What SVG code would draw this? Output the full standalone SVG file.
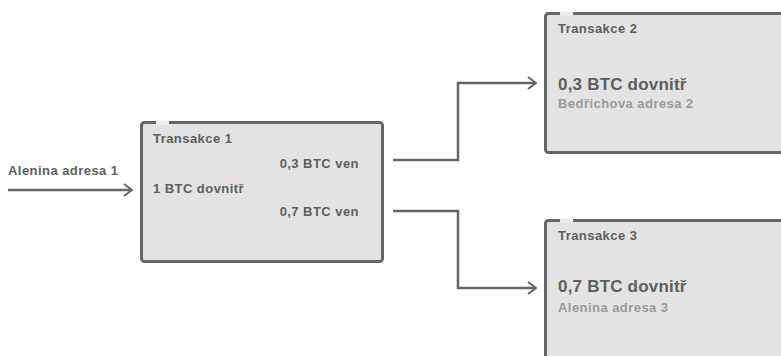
<svg xmlns="http://www.w3.org/2000/svg" width="781" height="356" viewBox="0 0 781 356">
<defs>
<style>
.box{fill:#e3e3e3;stroke:#666;stroke-width:3}
.gap{stroke:#eeeeee;stroke-width:4}
.t{font-family:"Liberation Sans",Arial,sans-serif;font-weight:bold;font-size:13px;letter-spacing:0.45px;fill:#5e5e5e}
.big{font-size:17px;letter-spacing:0.2px}
.light{fill:#9a9a9a}
.conn{fill:none;stroke:#666;stroke-width:2.5}
</style>
<marker id="arr" viewBox="0 0 10 14" refX="9" refY="7" markerWidth="10" markerHeight="14" markerUnits="userSpaceOnUse" orient="auto">
<path d="M1,1 L9,7 L1,13" fill="none" stroke="#666" stroke-width="2"/>
</marker>
</defs>
<rect width="781" height="356" fill="#fff"/>
<g id="connectors">
<path class="conn" d="M8,190 H132" marker-end="url(#arr)"/>
<path class="conn" d="M393,160 H458 V83 H536" marker-end="url(#arr)"/>
<path class="conn" d="M393,211 H458 V288 H536" marker-end="url(#arr)"/>
</g>
<g id="input-label">
<text class="t" x="8" y="175">Alenina adresa 1</text>
</g>
<g id="tx1">
<rect class="box" x="141.5" y="122.5" width="241" height="139" rx="3"/>
<line class="gap" x1="156" y1="122.5" x2="169" y2="122.5"/>
<text class="t" x="153" y="143">Transakce 1</text>
<text class="t" x="359" y="168" text-anchor="end">0,3 BTC ven</text>
<text class="t" x="153" y="193">1 BTC dovnitř</text>
<text class="t" x="359" y="216" text-anchor="end">0,7 BTC ven</text>
</g>
<g id="tx2">
<rect class="box" x="545.5" y="13.5" width="240" height="139" rx="3"/>
<line class="gap" x1="560" y1="13.5" x2="573" y2="13.5"/>
<text class="t" x="558" y="33">Transakce 2</text>
<text class="t big" x="558" y="90">0,3 BTC dovnitř</text>
<text class="t light" x="558" y="108">Bedřichova adresa 2</text>
</g>
<g id="tx3">
<rect class="box" x="545.5" y="220.5" width="240" height="150" rx="3"/>
<line class="gap" x1="560" y1="220.5" x2="573" y2="220.5"/>
<text class="t" x="558" y="240">Transakce 3</text>
<text class="t big" x="558" y="292">0,7 BTC dovnitř</text>
<text class="t light" x="558" y="312">Alenina adresa 3</text>
</g>
</svg>
